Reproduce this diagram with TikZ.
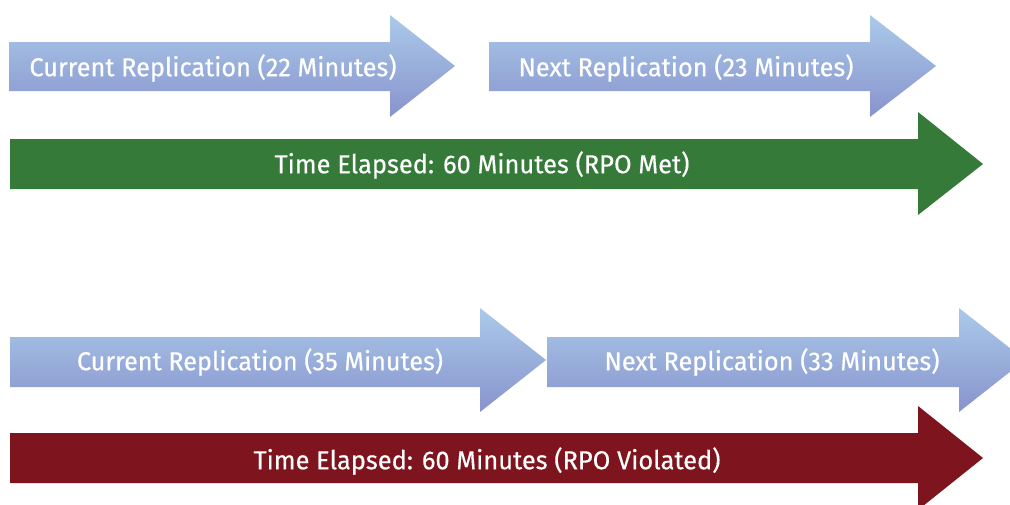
\documentclass[tikz,border=0pt]{standalone}
\usepackage{fontspec}
\usepackage{graphicx}
\setmainfont{Fira Sans}[FakeBold=0.4]
\definecolor{bluetop}{HTML}{AACAEA}
\definecolor{bluebot}{HTML}{8893CC}
\definecolor{okgreen}{HTML}{357A39}
\definecolor{badred}{HTML}{7E151E}
\newcommand{\fitw}[2]{\resizebox{#1}{\height}{#2}}
\begin{document}
\begin{tikzpicture}[x=1pt,y=-1pt,
  reparrow/.style={top color=bluetop,bottom color=bluebot,draw=none},
  greenarrow/.style={fill=okgreen,draw=none},
  redarrow/.style={fill=badred,draw=none},
  lbl/.style={text=white,inner sep=0pt,font=\fontsize{26}{28}\selectfont}]
\useasboundingbox (0,0) rectangle (1010,504);
\clip (0,0) rectangle (1010,504);
\fill[white] (0,0) rectangle (1010,504);
% top scenario
\path[reparrow] (9,42) -- (390,42) -- (390,15) -- (455,66) -- (390,117) -- (390,91) -- (9,91) -- cycle;
\path[reparrow] (489,42) -- (870,42) -- (870,15) -- (936,66) -- (870,117) -- (870,91) -- (489,91) -- cycle;
\path[greenarrow] (10,139) -- (918,139) -- (918,112) -- (983,164) -- (918,215) -- (918,189) -- (10,189) -- cycle;
\node[lbl] (cur1) at (213,68) {\fitw{367pt}{Current Replication (22 Minutes)}};
\node[lbl] (next1) at (686,68) {\fitw{335pt}{Next Replication (23 Minutes)}};
\node[lbl] (time1) at (482,165) {\fitw{415pt}{Time Elapsed: 60 Minutes (RPO Met)}};
% bottom scenario
\path[reparrow] (10,337) -- (480,337) -- (480,308) -- (546,360) -- (480,412) -- (480,387) -- (10,387) -- cycle;
\path[reparrow] (547,337) -- (959,337) -- (959,308) -- (1025,360) -- (959,412) -- (959,387) -- (547,387) -- cycle;
\path[redarrow] (10,433) -- (918,433) -- (918,406) -- (983,458) -- (918,510) -- (918,483) -- (10,483) -- cycle;
\node[lbl] (cur2) at (260,362) {\fitw{366pt}{Current Replication (35 Minutes)}};
\node[lbl] (next2) at (772,362) {\fitw{335pt}{Next Replication (33 Minutes)}};
\node[lbl] (time2) at (487,461) {\fitw{467pt}{Time Elapsed: 60 Minutes (RPO Violated)}};
\end{tikzpicture}
\end{document}
